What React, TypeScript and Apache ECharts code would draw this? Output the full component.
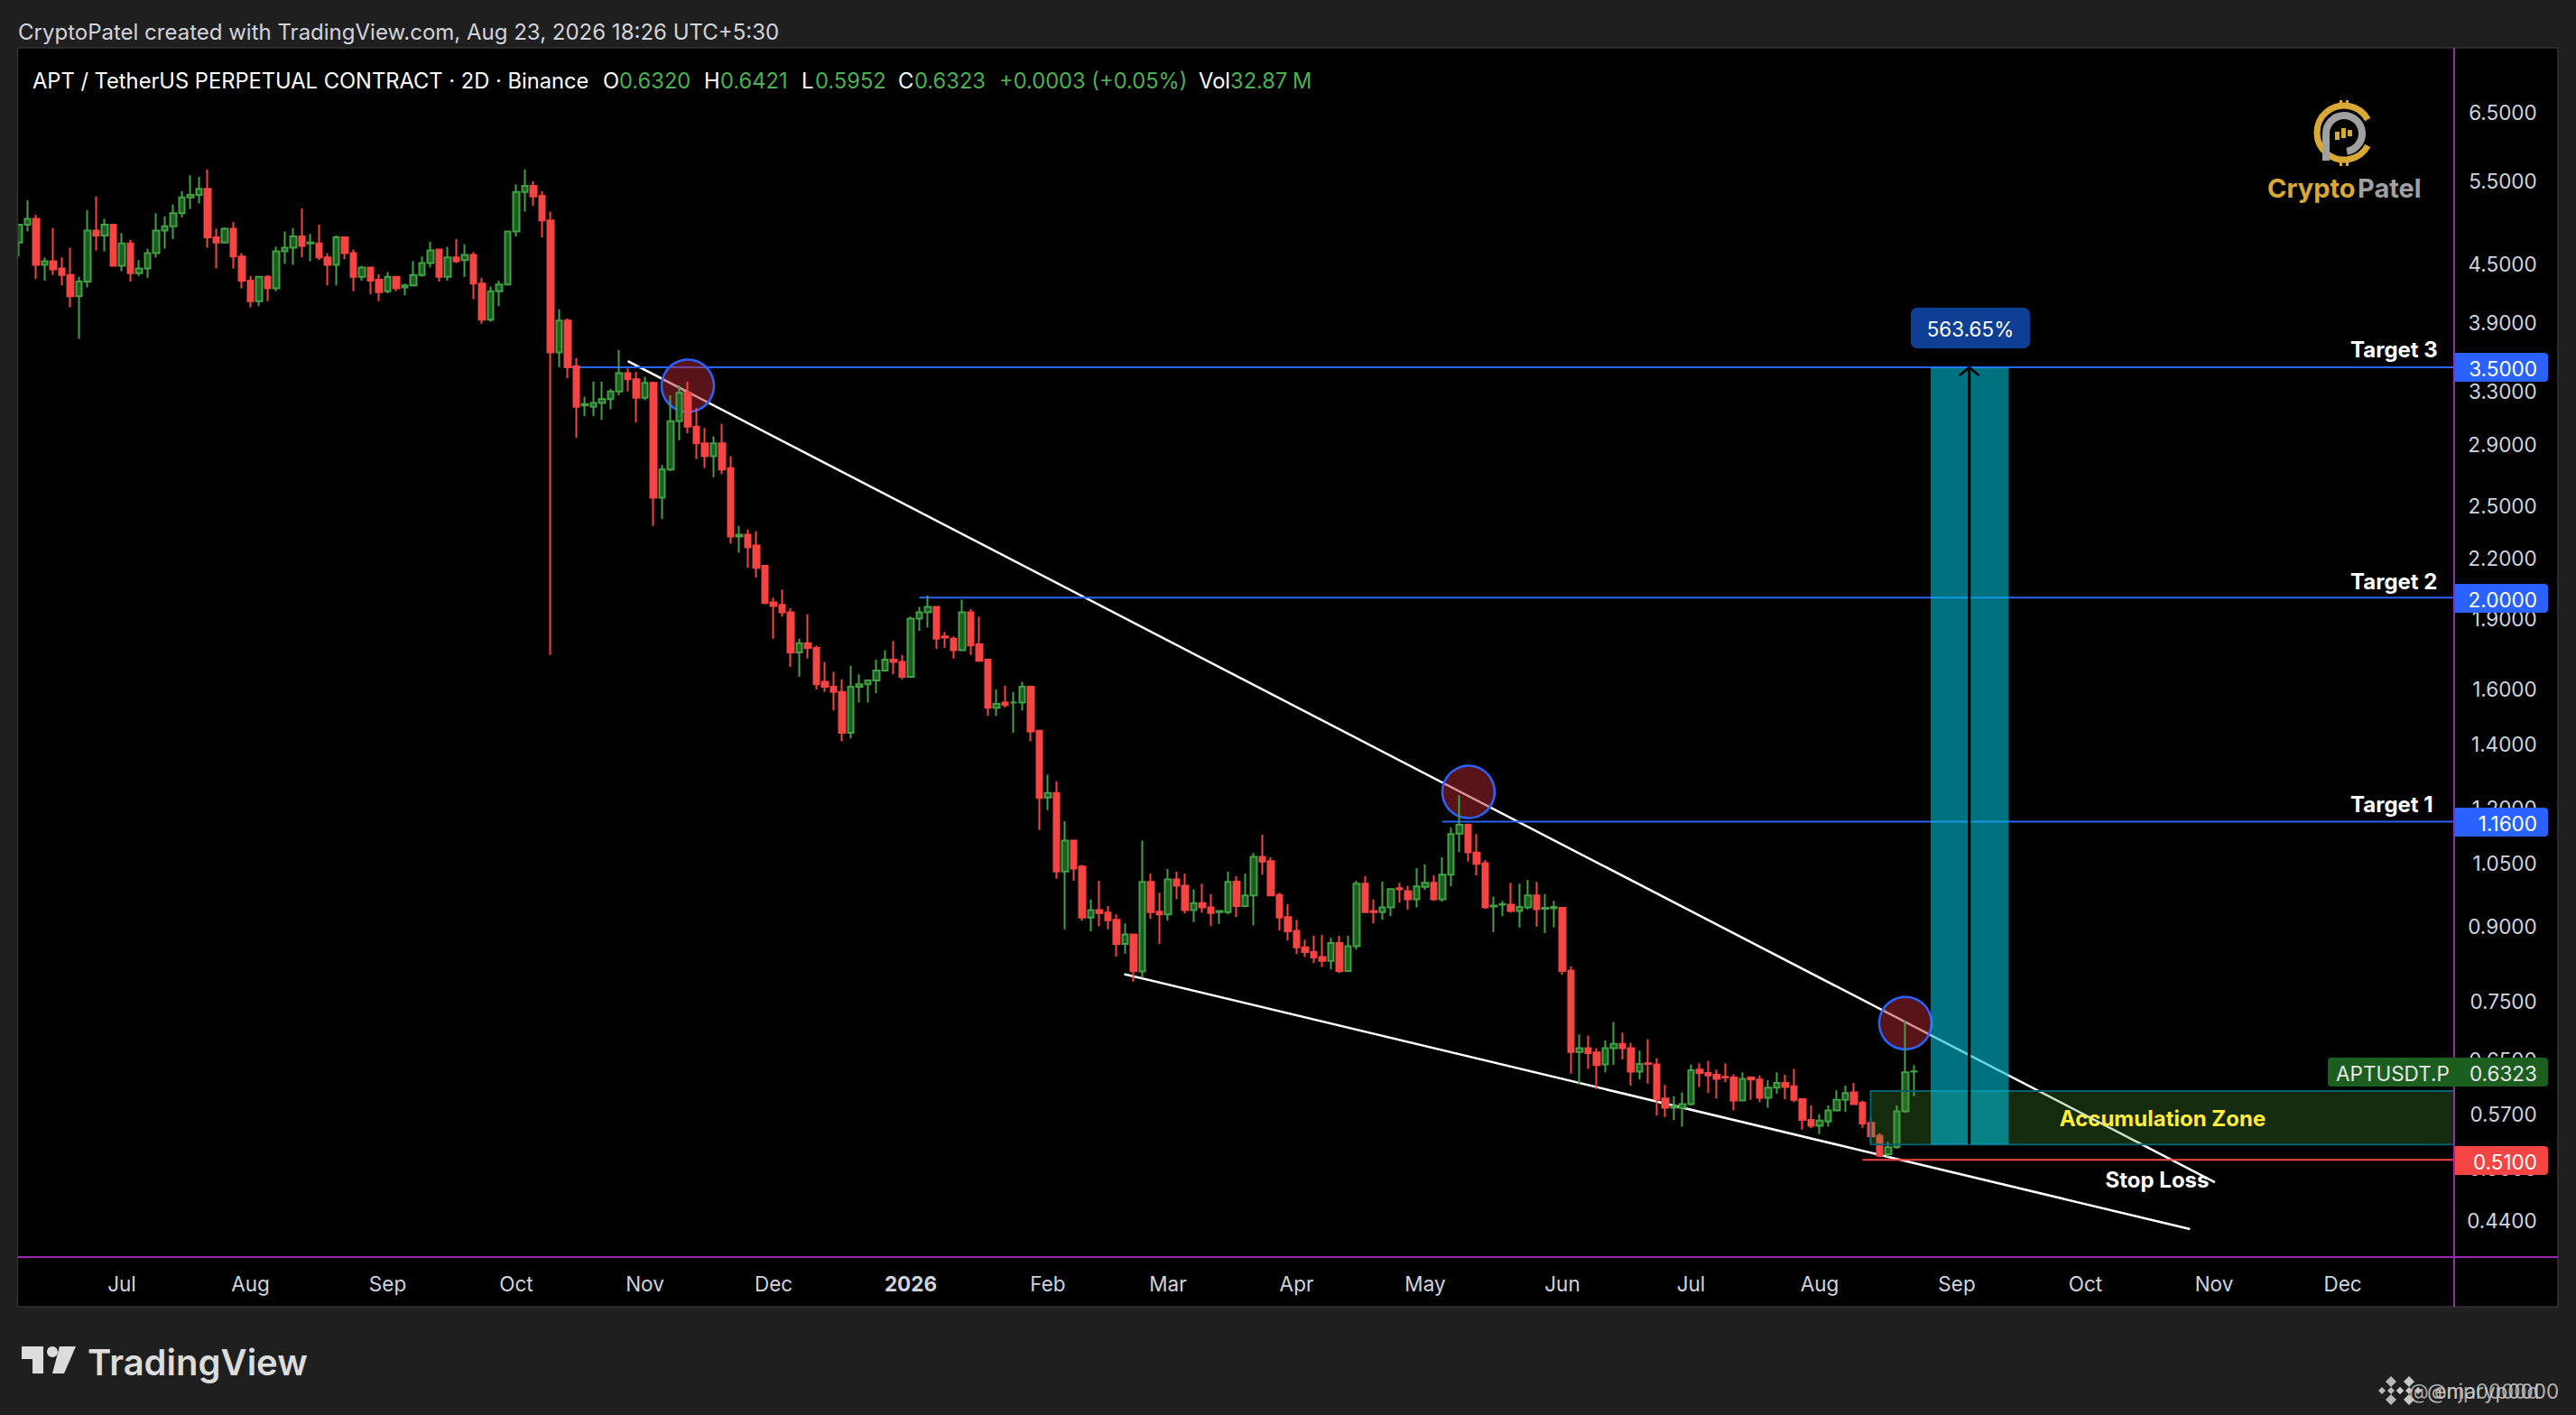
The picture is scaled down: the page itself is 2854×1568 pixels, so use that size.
import React, { useEffect, useRef } from "react";
import * as echarts from "echarts";

const W = 2854;
const H = 1568;
const FONT = "Inter, Roboto, sans-serif";
const PAGE = "#1f1f1f";

// 2-day bars; the first bar is 7 Jun 2025
const BAR_COUNT = 285;
const directions =
  "GGRGRRRGGR" + "GRGRGGGGGG" + "GGRRGRRRGR" + "GGGRGRRGRR" + "GRRGRGGGGR" +
  "GRGRRGGGGG" + "RRRGRRGGGG" + "GRRGRGGGRR" + "RGRRGRRRRR" + "RGRRRRRGGG" +
  "GGRRGGGRRR" + "GRRRGRGGRR" + "GRGRRGRRRG" + "RGRRGRRGRR" + "GGRGGRRRRR" +
  "RRRGRGGRRG" + "GRRGGRGGGR" + "RRGGRGGRGG" + "RRGRRGGRRG" + "RRRGGGRRRR" +
  "RGRRGGRRRR" + "GGGGRRRRGG" + "GG";
const highs = [
  4.95,5.25,5.07,4.57,4.91,4.57,4.68,4.36,5.13,5.30,
  5.02,4.96,4.85,4.77,4.54,4.67,5.09,5.05,5.20,5.37,
  5.58,5.56,5.66,4.90,4.92,4.98,4.62,4.37,4.37,4.38,
  4.69,4.87,4.91,5.15,4.84,4.95,4.62,4.82,4.81,4.66,
  4.48,4.47,4.39,4.41,4.37,4.29,4.53,4.58,4.75,4.67,
  4.69,4.78,4.72,4.63,4.35,4.26,4.32,4.87,5.46,5.66,
  5.50,5.37,5.11,4.03,3.94,3.577,3.26,3.38,3.38,3.32,
  3.65,3.49,3.46,3.42,3.38,2.76,3.27,3.35,3.38,3.17,
  3.02,2.96,3.05,2.82,2.38,2.36,2.35,2.16,2.00,2.04,
  1.95,1.81,1.92,1.78,1.71,1.67,1.64,1.695,1.66,1.64,
  1.72,1.76,1.80,1.74,1.91,1.955,2.01,1.96,1.84,1.82,
  1.99,1.945,1.91,1.72,1.60,1.615,1.59,1.63,1.615,1.45,
  1.30,1.28,1.162,1.108,1.045,.96,1.005,.945,.926,.906,
  .883,1.108,1.023,.976,1.034,1.027,1.023,.984,.998,.973,
  .936,1.027,1.016,1.023,1.075,1.124,1.064,.976,.949,.914,
  .871,.879,.881,.875,.879,.879,1.005,1.016,.96,1.003,
  .986,1.0,.993,1.036,1.046,1.018,1.064,1.144,1.237,1.155,
  1.126,1.057,.967,.957,1.0,.998,1.007,1.002,.973,.957,
  .941,.816,.692,.69,.669,.682,.713,.695,.678,.665,
  .684,.653,.612,.595,.601,.643,.645,.649,.635,.645,
  .628,.631,.624,.626,.619,.631,.627,.636,.591,.582,
  .57,.582,.604,.611,.615,.589,.566,.544,.533,.582,
  .715,.6421,
];
const bodyTops = [
  4.95,5.02,5.02,4.53,4.53,4.45,4.38,4.31,4.88,4.88,
  4.95,4.95,4.73,4.73,4.45,4.62,4.88,4.93,5.09,5.29,
  5.32,5.40,5.40,4.80,4.90,4.90,4.58,4.32,4.36,4.36,
  4.64,4.68,4.81,4.81,4.74,4.73,4.57,4.80,4.80,4.62,
  4.46,4.46,4.33,4.36,4.36,4.27,4.38,4.51,4.65,4.66,
  4.57,4.57,4.60,4.60,4.29,4.21,4.28,4.87,5.36,5.44,
  5.44,5.31,5.00,3.92,3.92,3.51,3.20,3.21,3.24,3.30,
  3.45,3.45,3.40,3.37,3.37,2.73,3.07,3.29,3.29,3.03,
  2.91,2.91,2.91,2.74,2.33,2.33,2.27,2.16,1.977,1.965,
  1.93,1.79,1.79,1.77,1.63,1.61,1.59,1.61,1.62,1.635,
  1.675,1.72,1.72,1.71,1.90,1.93,1.955,1.955,1.82,1.81,
  1.93,1.93,1.785,1.72,1.545,1.55,1.55,1.61,1.61,1.447,
  1.244,1.244,1.108,1.108,1.04,.936,.936,.93,.914,.882,
  .882,1.002,1.002,.932,1.008,1.008,.993,.952,.952,.942,
  .934,1.002,1.003,.97,1.065,1.065,1.054,.971,.92,.89,
  .855,.845,.835,.864,.864,.857,.998,.998,.934,.942,
  .985,.987,.98,.991,1.0,1.0,1.02,1.126,1.151,1.151,
  1.076,1.049,.946,.95,.948,.943,.97,.97,.941,.943,
  .941,.808,.669,.669,.662,.669,.676,.676,.669,.644,
  .645,.643,.592,.581,.584,.634,.635,.63,.627,.624,
  .623,.621,.623,.62,.608,.615,.615,.61,.591,.562,
  .561,.575,.59,.6,.601,.586,.558,.541,.526,.574,
  .631,.6323,
];
const bodyBottoms = [
  4.74,4.95,4.49,4.49,4.44,4.38,4.16,4.16,4.31,4.82,
  4.82,4.48,4.48,4.40,4.40,4.45,4.62,4.88,4.93,5.09,
  5.29,5.32,4.80,4.74,4.74,4.58,4.32,4.11,4.11,4.24,
  4.24,4.64,4.68,4.70,4.73,4.57,4.49,4.49,4.62,4.36,
  4.36,4.32,4.20,4.21,4.24,4.25,4.27,4.38,4.51,4.36,
  4.36,4.53,4.54,4.29,3.93,3.93,4.21,4.28,4.87,5.36,
  5.30,5.00,3.63,3.63,3.50,3.18,3.19,3.18,3.21,3.24,
  3.30,3.40,3.25,3.25,2.55,2.55,2.73,3.07,3.03,2.91,
  2.82,2.82,2.73,2.32,2.32,2.26,2.15,1.975,1.96,1.93,
  1.75,1.75,1.77,1.62,1.61,1.59,1.44,1.44,1.61,1.62,
  1.635,1.675,1.71,1.65,1.65,1.90,1.93,1.81,1.815,1.76,
  1.76,1.78,1.715,1.53,1.53,1.54,1.55,1.55,1.445,1.229,
  1.23,1.028,1.028,1.035,.919,.919,.929,.913,.862,.862,
  .807,.806,.931,.926,.926,.993,.936,.936,.942,.929,
  .931,.931,.945,.945,.97,1.053,.97,.919,.889,.855,
  .845,.834,.827,.827,.807,.807,.857,.931,.931,.931,
  .942,.984,.961,.961,.99,.961,.961,1.02,1.127,1.077,
  1.047,.942,.944,.948,.934,.934,.942,.938,.939,.94,
  .807,.663,.663,.661,.642,.643,.669,.669,.632,.632,
  .644,.591,.579,.579,.579,.584,.63,.626,.621,.623,
  .589,.589,.62,.593,.593,.608,.609,.59,.562,.554,
  .554,.56,.575,.59,.584,.557,.54,.515,.517,.526,
  .574,.6320,
];
const lows = [
  4.58,4.87,4.34,4.32,4.38,4.27,4.05,3.75,4.25,4.65,
  4.64,4.48,4.42,4.31,4.37,4.35,4.57,4.67,4.78,5.04,
  5.14,5.21,4.68,4.45,4.73,4.45,4.24,4.05,4.06,4.11,
  4.21,4.50,4.49,4.57,4.53,4.54,4.27,4.27,4.55,4.21,
  4.32,4.18,4.11,4.19,4.21,4.17,4.26,4.36,4.46,4.31,
  4.32,4.51,4.36,4.13,3.89,3.91,4.06,4.28,4.81,5.11,
  5.18,4.80,1.74,3.50,3.41,2.95,3.11,3.11,3.08,3.16,
  3.27,3.30,3.06,3.23,2.38,2.42,2.72,2.93,2.98,2.80,
  2.74,2.68,2.70,2.28,2.23,2.15,2.10,1.967,1.81,1.91,
  1.69,1.65,1.725,1.60,1.59,1.52,1.41,1.42,1.55,1.55,
  1.585,1.67,1.66,1.64,1.65,1.845,1.86,1.765,1.77,1.725,
  1.755,1.74,1.715,1.50,1.50,1.53,1.44,1.52,1.41,1.137,
  1.193,1.01,.893,1.005,.912,.889,.90,.893,.836,.842,
  .786,.794,.916,.862,.912,.961,.928,.909,.93,.90,
  .905,.926,.92,.942,.902,1.02,.968,.891,.869,.841,
  .835,.823,.815,.81,.803,.807,.85,.931,.906,.914,
  .922,.953,.937,.942,.983,.957,.955,.992,1.077,1.053,
  1.018,.939,.887,.922,.93,.897,.937,.899,.885,.897,
  .80,.629,.613,.636,.606,.631,.642,.651,.611,.62,
  .614,.568,.566,.562,.553,.582,.609,.60,.592,.616,
  .575,.588,.59,.587,.579,.599,.591,.587,.549,.551,
  .543,.553,.575,.573,.584,.551,.531,.513,.514,.524,
  .572,.5952,
];

const priceTicks = [6.5, 5.5, 4.5, 3.9, 3.3, 2.9, 2.5, 2.2, 1.9, 1.6, 1.4, 1.2, 1.05, 0.9, 0.75, 0.65, 0.57, 0.5, 0.44];
const timeTickBars = [12, 27, 43, 58, 73, 88, 104, 120, 134, 149, 164, 180, 195, 210, 226, 241, 256, 271];
const timeTickNames = ["Jul", "Aug", "Sep", "Oct", "Nov", "Dec", "2026", "Feb", "Mar", "Apr", "May", "Jun", "Jul", "Aug", "Sep", "Oct", "Nov", "Dec"];

// drawings, in [bar, price]
const upperTrend = [[71, 3.554], [256.1, 0.483]];
const lowerTrend = [[128.9, 0.801], [253.2, 0.431]];
const targetLevels = [
  { price: 3.5, from: 64 },
  { price: 2.0, from: 105 },
  { price: 1.16, from: 166 },
];
const stopLevel = { price: 0.51, from: 215 };
const lastBar = 284;
const touchPoints = [[78, 3.346], [169.05, 1.247], [220, 0.711]];
const projection = { from: 222.95, to: 232.05, top: 3.5, bottom: 0.5295 };
const zone = { from: 215.95, to: 284, top: 0.603, bottom: 0.5295 };
const arrowShaft = [[227.45, 0.5295], [227.45, 3.5]];
const arrowHead = [[226.3, 3.43], [227.45, 3.5], [228.6, 3.43]];

const categories = Array.from({ length: BAR_COUNT }, (_, i) =>
  new Date(Date.UTC(2025, 5, 7 + i * 2)).toISOString().slice(0, 10)
);

const txt = (x: number, y: number, text: string, fill: string, fontSize: number, opts: any = {}) => ({
  type: "text",
  x,
  y,
  z: opts.z ?? 100,
  silent: true,
  style: {
    text,
    fill,
    fontSize,
    fontFamily: opts.family ?? FONT,
    fontWeight: opts.weight ?? 400,
    align: opts.align ?? "left",
    verticalAlign: "middle",
    opacity: opts.opacity ?? 1,
  },
});
const box = (x: number, y: number, width: number, height: number, fill: string, z: number, r: any = 0) => ({
  type: "rect",
  z,
  silent: true,
  shape: { x, y, width, height, r },
  style: { fill },
});
const seg = (x1: number, y1: number, x2: number, y2: number, stroke: string, lineWidth: number, z: number) => ({
  type: "line",
  z,
  silent: true,
  shape: { x1, y1, x2, y2 },
  style: { stroke, lineWidth },
});
const poly = (points: number[][], fill: string, z: number) => ({
  type: "polygon",
  z,
  silent: true,
  shape: { points },
  style: { fill },
});
const diamonds = (cx: number, cy: number, fill: string) =>
  [[0, 0, 4], [-10, 0, 4], [10, 0, 4], [0, -10, 6], [0, 10, 6]].map(([dx, dy, s]) =>
    poly([[cx + dx, cy + dy - s], [cx + dx + s, cy + dy], [cx + dx, cy + dy + s], [cx + dx - s, cy + dy]], fill, 100)
  );

const GREEN = "#4caf50";
const GOLD = "#d9a935";
const GRAY = "#a0a0a0";
const TICK = "#d1d4dc";

const graphicElements: any[] = [
  box(20, 53, 2814, 1395, "#000000", -10),
  box(0, 0, 20, H, PAGE, 50),
  seg(19.5, 53, 19.5, 1448, "#333333", 1.5, 51),
  seg(20, 1448, 2834, 1448, "#333333", 1.5, 51),
  seg(2834, 53, 2834, 1448, "#333333", 1.5, 51),
  seg(20, 53, 2834, 53, "#333333", 1.5, 51),
  seg(2719, 53, 2719, 1448, "#9c27b0", 2, 52),
  seg(20, 1393, 2834, 1393, "#9c27b0", 2, 52),

  txt(20, 35, "CryptoPatel created with TradingView.com, Aug 23, 2026 18:26 UTC+5:30", TICK, 24),
  txt(36, 89, "APT / TetherUS PERPETUAL CONTRACT · 2D · Binance", "#ffffff", 23.7),
  txt(668, 89, "O", "#ffffff", 23.7),
  txt(686, 89, "0.6320", GREEN, 23.7),
  txt(780, 89, "H", "#ffffff", 23.7),
  txt(798, 89, "0.6421", GREEN, 23.7),
  txt(888, 89, "L", "#ffffff", 23.7),
  txt(903, 89, "0.5952", GREEN, 23.7),
  txt(995, 89, "C", "#ffffff", 23.7),
  txt(1013, 89, "0.6323", GREEN, 23.7),
  txt(1107, 89, "+0.0003 (+0.05%)", GREEN, 23.7),
  txt(1328, 89, "Vol", "#ffffff", 23.7),
  txt(1363, 89, "32.87", GREEN, 23.7),
  txt(1432, 89, "M", GREEN, 23.7),

  // target and stop labels
  txt(2604, 387, "Target 3", "#ffffff", 24, { weight: 700 }),
  txt(2604, 644, "Target 2", "#ffffff", 24, { weight: 700 }),
  txt(2604, 891, "Target 1", "#ffffff", 24, { weight: 700 }),
  txt(2396, 1239, "Accumulation Zone", "#ffeb3b", 24, { align: "center", weight: 700 }),
  txt(2390, 1307, "Stop Loss", "#ffffff", 24, { align: "center", weight: 700 }),

  box(2117, 341, 132, 45, "#0d3f94", 100, 7),
  txt(2183, 364, "563.65%", "#ffffff", 22.5, { align: "center" }),

  // price tags
  box(2720, 391, 103, 32, "#2962ff", 100, [0, 4, 4, 0]),
  txt(2811, 408, "3.5000", "#ffffff", 22.5, { align: "right" }),
  box(2720, 647, 103, 32, "#2962ff", 100, [0, 4, 4, 0]),
  txt(2811, 664, "2.0000", "#ffffff", 22.5, { align: "right" }),
  box(2720, 895, 103, 32, "#2962ff", 100, [0, 4, 4, 0]),
  txt(2811, 912, "1.1600", "#ffffff", 22.5, { align: "right" }),
  box(2579, 1172, 244, 32, "#1b5e20", 100, 4),
  txt(2588, 1189, "APTUSDT.P", "#e8e8e8", 22.5),
  txt(2811, 1189, "0.6323", "#e8e8e8", 22.5, { align: "right" }),
  box(2720, 1270, 103, 32, "#f44444", 100, [0, 4, 4, 0]),
  txt(2811, 1287, "0.5100", "#ffffff", 22.5, { align: "right" }),

  // CryptoPatel mark
  { type: "arc", z: 100, silent: true, shape: { cx: 2597, cy: 147, r: 30, startAngle: 0.5, endAngle: 5.78, clockwise: true }, style: { stroke: GOLD, lineWidth: 7, fill: "none" } },
  { type: "arc", z: 100, silent: true, shape: { cx: 2597, cy: 148, r: 20, startAngle: Math.PI, endAngle: Math.PI * 2.45, clockwise: true }, style: { stroke: GRAY, lineWidth: 8, fill: "none" } },
  seg(2577, 148, 2577, 178, GRAY, 8, 100),
  box(2592, 111, 3, 6, GOLD, 100),
  box(2599, 111, 3, 6, GOLD, 100),
  box(2592, 178, 3, 6, GOLD, 100),
  box(2599, 178, 3, 6, GOLD, 100),
  box(2587, 146, 5, 9, GOLD, 100),
  box(2594, 142, 5, 11, GOLD, 100),
  box(2601, 144, 5, 7, GOLD, 100),
  txt(2512, 208, "Crypto", GOLD, 29, { weight: 700 }),
  txt(2612, 208, "Patel", GRAY, 29, { weight: 700 }),

  // TradingView mark
  poly([[24, 1492], [48, 1492], [48, 1522], [36, 1522], [36, 1506], [24, 1506]], "#dcdcdc", 100),
  { type: "circle", z: 100, silent: true, shape: { cx: 58, cy: 1498, r: 6 }, style: { fill: "#dcdcdc" } },
  poly([[66, 1492], [84, 1492], [71, 1522], [58, 1522]], "#dcdcdc", 100),
  txt(97, 1509, "TradingView", "#dcdcdc", 40, { weight: 600 }),

  // overlapping watermarks
  ...diamonds(2649, 1541, "#b8b8b8"),
  ...diamonds(2669, 1541, "#c8c8c8"),
  txt(2669, 1541, "@ enjp0000d", "#c0c0c0", 22.5, { opacity: 0.85 }),
  txt(2689, 1541, "@maryp0000", "#d0d0d0", 22.5, { opacity: 0.85 }),
];

const rectRender = (_params: any, api: any) => {
  const a = api.coord([api.value(0), api.value(2)]);
  const b = api.coord([api.value(1), api.value(3)]);
  return {
    type: "rect",
    shape: { x: a[0], y: a[1], width: b[0] - a[0], height: b[1] - a[1] },
    style: { fill: api.visual("color"), stroke: api.style().stroke, lineWidth: api.style().lineWidth },
  };
};

const drawnLine = (data: number[][], color: string, width: number, z: number) => ({
  type: "line",
  xAxisIndex: 1,
  yAxisIndex: 0,
  data,
  z,
  silent: true,
  symbol: "none",
  clip: false,
  lineStyle: { color, width },
});

export default function App() {
  const ref = useRef<HTMLDivElement>(null);
  useEffect(() => {
    document.body.style.margin = "0";
    document.body.style.background = PAGE;
    const chart = echarts.init(ref.current!, undefined, { renderer: "svg", width: W, height: H });
    const candles = directions.split("").map((d, i) =>
      d === "G"
        ? [bodyBottoms[i], bodyTops[i], lows[i], highs[i]]
        : [bodyTops[i], bodyBottoms[i], lows[i], highs[i]]
    );
    chart.setOption({
      animation: false,
      backgroundColor: PAGE,
      grid: { left: 16.25, top: 53.5, width: 2707.5, height: 1339.5, containLabel: false },
      xAxis: [
        {
          type: "category",
          data: categories,
          boundaryGap: true,
          axisLine: { show: false },
          axisTick: { show: false },
          splitLine: { show: false },
          axisLabel: {
            color: TICK,
            fontFamily: FONT,
            fontSize: 22.5,
            margin: 18,
            hideOverlap: false,
            interval: (i: number) => timeTickBars.includes(i),
            formatter: (_v: string, i: number) => {
              const n = timeTickNames[timeTickBars.indexOf(i)] ?? "";
              return n === "2026" ? `{b|${n}}` : n;
            },
            rich: { b: { fontWeight: 700, color: TICK, fontFamily: FONT, fontSize: 22.5 } },
          },
        },
        { type: "value", min: -0.5, max: 284.5, show: false },
      ],
      yAxis: {
        type: "log",
        logBase: 10,
        min: 0.4027,
        max: 7.599,
        position: "right",
        axisLine: { show: false },
        axisTick: { show: false },
        splitLine: { show: false },
        minorTick: { show: false },
        axisLabel: {
          color: TICK,
          fontFamily: FONT,
          fontSize: 22.5,
          margin: 87,
          align: "right",
          customValues: priceTicks,
          formatter: (v: number) => v.toFixed(4),
        },
      },
      graphic: { elements: graphicElements },
      series: [
        drawnLine(upperTrend, "#ffffff", 2.5, 3),
        drawnLine(lowerTrend, "#ffffff", 2.5, 3),
        ...targetLevels.map((l) => drawnLine([[l.from, l.price], [lastBar, l.price]], "#2962ff", 2, 3)),
        drawnLine([[stopLevel.from, stopLevel.price], [lastBar, stopLevel.price]], "#f44444", 2, 3),
        {
          type: "scatter",
          xAxisIndex: 1,
          yAxisIndex: 0,
          data: touchPoints,
          z: 4,
          silent: true,
          symbolSize: 58,
          itemStyle: { color: "rgba(178,40,51,0.5)", borderColor: "#2962ff", borderWidth: 2.5, opacity: 1 },
        },
        {
          type: "candlestick",
          xAxisIndex: 0,
          yAxisIndex: 0,
          data: candles,
          z: 5,
          silent: true,
          barWidth: 7,
          itemStyle: {
            color: "#1b5e20",
            color0: "#f44444",
            borderColor: "#43a047",
            borderColor0: "#f44444",
            borderWidth: 2,
          },
        },
        {
          type: "custom",
          xAxisIndex: 1,
          yAxisIndex: 0,
          z: 6,
          silent: true,
          clip: false,
          encode: { x: [0, 1], y: [2, 3] },
          renderItem: rectRender,
          itemStyle: { color: "rgba(76,153,50,0.28)", borderColor: "#00606e", borderWidth: 2 },
          data: [[zone.from, zone.to, zone.top, zone.bottom]],
        },
        {
          type: "custom",
          xAxisIndex: 1,
          yAxisIndex: 0,
          z: 6,
          silent: true,
          clip: false,
          encode: { x: [0, 1], y: [2, 3] },
          renderItem: rectRender,
          itemStyle: { color: "rgba(0,188,212,0.6)", borderWidth: 0 },
          data: [[projection.from, projection.to, projection.top, projection.bottom]],
        },
        drawnLine(arrowShaft, "#000000", 3, 7),
        drawnLine(arrowHead, "#000000", 2.5, 7),
      ],
    });
    return () => chart.dispose();
  }, []);
  return <div ref={ref} style={{ width: W, height: H, position: "fixed", left: 0, top: 0 }} />;
}
